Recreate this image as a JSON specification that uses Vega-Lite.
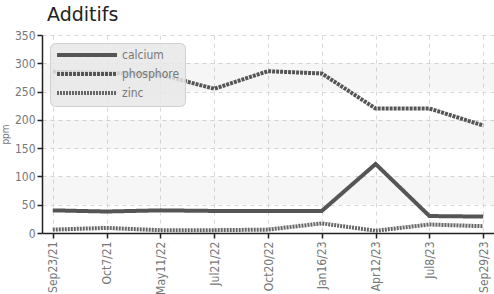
{
  "$schema": "https://vega.github.io/schema/vega-lite/v6.json",
  "width": 452,
  "height": 198,
  "autosize": "none",
  "padding": {"left": 42, "top": 35, "right": 0, "bottom": 61},
  "title": {"text": "Additifs", "anchor": "start", "frame": "group", "fontSize": 19, "fontWeight": "normal", "font": "DejaVu Sans", "color": "#222", "dx": 5, "offset": 4},
  "config": {
    "view": {"stroke": null},
    "axis": {
      "labelFont": "DejaVu Sans Condensed",
      "labelFontSize": 12,
      "labelColor": "#777",
      "domainColor": "#222",
      "domainWidth": 1.5,
      "tickColor": "#222",
      "tickWidth": 1.5,
      "tickSize": 5,
      "gridColor": "#d8d8d8",
      "gridDash": [4, 4],
      "gridWidth": 1,
      "titleFont": "DejaVu Sans Condensed",
      "titleFontSize": 10,
      "titleFontWeight": "normal",
      "titleColor": "#777"
    },
    "legend": {
      "orient": "top-left",
      "offset": 8,
      "fillColor": "rgba(232,232,232,0.85)",
      "strokeColor": "#d0d0d0",
      "cornerRadius": 5,
      "padding": 5,
      "symbolType": "M-1,0H11",
      "symbolSize": 100,
      "labelOffset": 53,
      "labelFont": "DejaVu Sans Condensed",
      "labelFontSize": 12,
      "labelColor": "#777",
      "rowPadding": 3
    }
  },
  "datasets": {
    "bands": [
      {"low": 50, "high": 100},
      {"low": 150, "high": 200},
      {"low": 250, "high": 300}
    ],
    "series": [
      {"date": "Sep23/21", "serie": "calcium", "ppm": 40},
      {"date": "Oct7/21", "serie": "calcium", "ppm": 38},
      {"date": "May11/22", "serie": "calcium", "ppm": 40},
      {"date": "Jul21/22", "serie": "calcium", "ppm": 39},
      {"date": "Oct20/22", "serie": "calcium", "ppm": 39},
      {"date": "Jan16/23", "serie": "calcium", "ppm": 39},
      {"date": "Apr12/23", "serie": "calcium", "ppm": 122},
      {"date": "Jul8/23", "serie": "calcium", "ppm": 30},
      {"date": "Sep29/23", "serie": "calcium", "ppm": 29},
      {"date": "Sep23/21", "serie": "phosphore", "ppm": 285},
      {"date": "Oct7/21", "serie": "phosphore", "ppm": 283},
      {"date": "May11/22", "serie": "phosphore", "ppm": 280},
      {"date": "Jul21/22", "serie": "phosphore", "ppm": 255},
      {"date": "Oct20/22", "serie": "phosphore", "ppm": 286},
      {"date": "Jan16/23", "serie": "phosphore", "ppm": 282},
      {"date": "Apr12/23", "serie": "phosphore", "ppm": 220},
      {"date": "Jul8/23", "serie": "phosphore", "ppm": 220},
      {"date": "Sep29/23", "serie": "phosphore", "ppm": 190},
      {"date": "Sep23/21", "serie": "zinc", "ppm": 6},
      {"date": "Oct7/21", "serie": "zinc", "ppm": 9},
      {"date": "May11/22", "serie": "zinc", "ppm": 5},
      {"date": "Jul21/22", "serie": "zinc", "ppm": 5},
      {"date": "Oct20/22", "serie": "zinc", "ppm": 6},
      {"date": "Jan16/23", "serie": "zinc", "ppm": 17},
      {"date": "Apr12/23", "serie": "zinc", "ppm": 4},
      {"date": "Jul8/23", "serie": "zinc", "ppm": 15},
      {"date": "Sep29/23", "serie": "zinc", "ppm": 12}
    ]
  },
  "layer": [
    {
      "data": {"name": "bands"},
      "mark": {"type": "rect", "color": "#000000", "opacity": 0.035},
      "encoding": {
        "y": {
          "field": "low", "type": "quantitative", "scale": {"domain": [0, 350]},
          "axis": {"title": "ppm", "values": [0, 50, 100, 150, 200, 250, 300, 350], "labelOverlap": false, "grid": true, "titlePadding": 4, "labelPadding": 2}
        },
        "y2": {"field": "high"}
      }
    },
    {
      "data": {"name": "series"},
      "mark": {"type": "line"},
      "encoding": {
        "x": {
          "field": "date", "type": "ordinal", "sort": null,
          "scale": {"type": "point", "padding": 0.2},
          "axis": {"title": null, "labelAngle": -90, "grid": true, "labelPadding": 3}
        },
        "y": {
          "field": "ppm", "type": "quantitative",
          "axis": {"title": "ppm", "values": [0, 50, 100, 150, 200, 250, 300, 350], "labelOverlap": false, "grid": true, "titlePadding": 4, "labelPadding": 2}
        },
        "color": {"field": "serie", "type": "nominal", "scale": {"range": ["#555555", "#555555", "#666666"]}, "legend": {"title": null}},
        "strokeDash": {"field": "serie", "type": "nominal", "scale": {"range": [[1, 0], [3, 1], [2, 1]]}, "legend": {"title": null}},
        "strokeWidth": {"field": "serie", "type": "nominal", "scale": {"range": [4, 4, 2.5]}, "legend": {"title": null}}
      }
    }
  ]
}
